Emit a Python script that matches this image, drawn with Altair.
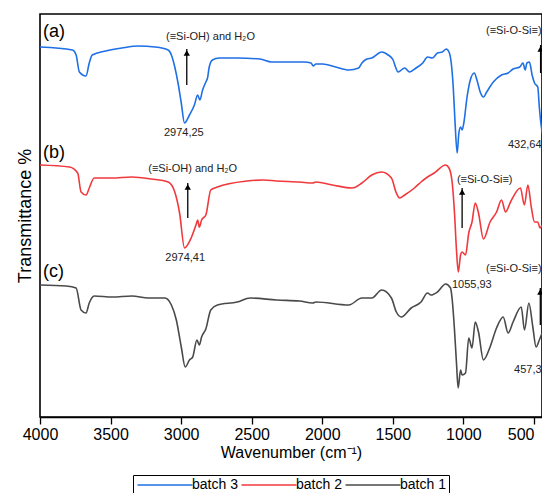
import altair as alt
import pandas as pd

# ---- data (wavenumber cm-1, transmittance in arbitrary offset units)
wn_a = [4000,3770,3744,3721,3674,3651,3630,3534,3420,3302,3185,3092,3069,3045,3022,2999,2976,2941,2906,2883,
        2867,2848,2825,2813,2801,2778,2731,2603,2441,2359,2243,2126,2080,2064,2045,1998,1905,1812,1742,1719,
        1684,1649,1579,1533,1498,1481,1463,1416,1381,1335,1288,1254,1219,1184,1149,1121,1102,1086,1072,1060,
        1044,1032,1020,1009,997,974,951,923,904,881,858,835,788,730,683,648,601,578,562,550,
        532,513,496,473,462,451,432,420]
t_a = [370,367,362,345,341,354,362,366,369,371,370,367,362,350,334,314,294,302,312,322,
       317,327,335,339,350,357,359,359,358,355,355,355,354,351,353,353,350,347,349,354,
       358,359,365,362,357,350,345,349,345,349,354,360,359,364,365,368,365,354,330,297,
       264,284,290,287,294,320,337,344,337,325,320,325,335,342,344,348,350,354,347,354,
       355,342,334,330,310,294,280,285]

wn_b = [4000,3791,3733,3709,3674,3651,3616,3490,3351,3211,3092,3045,3011,2976,2929,2895,2883,2871,2855,2825,
        2790,2743,2534,2417,2324,2161,2068,2045,1928,1789,1719,1649,1579,1510,1475,1451,1416,1347,1300,1254,
        1207,1126,1102,1079,1063,1049,1036,1020,1009,985,962,939,916,893,858,811,765,730,701,666,
        596,568,543,519,496,473,457,438,420]
t_b = [252,250,244,225,222,229,239,239,240,238,235,225,204,169,179,192,197,190,197,202,
       227,230,236,237,236,235,234,235,232,229,234,242,245,239,224,219,222,229,235,240,
       244,252,249,234,204,167,145,162,165,162,184,195,214,204,178,195,205,217,205,215,
       229,212,232,210,195,195,189,192,190]

wn_c = [4000,3814,3744,3709,3674,3651,3616,3488,3349,3232,3115,3069,3034,2999,2971,2941,2918,2888,2871,2855,
        2825,2790,2743,2603,2511,2324,2161,2068,2045,1812,1719,1649,1579,1510,1475,1440,1370,1300,1254,1230,
        1184,1126,1091,1079,1063,1049,1037,1020,1009,985,962,939,916,893,858,811,765,718,683,648,
        590,567,536,508,485,462,438,420]
t_c = [132,131,129,107,104,114,121,120,121,119,119,112,97,70,50,57,60,77,72,80,
       88,107,112,115,119,117,116,114,115,112,119,119,127,119,105,100,109,115,124,122,
       125,133,129,117,87,54,29,47,42,44,79,69,95,85,57,70,89,100,84,95,
       110,87,114,90,70,77,84,80]

series_names = ["batch 3", "batch 2", "batch 1"]
series_colors = ["#1f6fe5", "#f0393d", "#4a4a4a"]

# annotations
center_texts = ["(≡Si-OH) and H₂O", "2974,25", "(≡Si-OH) and H₂O", "2974,41"]
center_wn = [2792, 2981, 2918, 2971]
center_t = [380, 284, 248, 159]

left_texts = ["(≡Si-O-Si≡)", "1055,93"]
left_wn = [1046, 1081]
left_t = [237, 132]

right_texts = ["(≡Si-O-Si≡)", "432,64", "(≡Si-O-Si≡)", "457,3"]
right_wn = [446, 446, 446, 446]
right_t = [386, 272, 148, 47]

arrow_wn = [2960, 2953, 1009, 453, 455]
arrow_bottom = [332, 199, 189, 344, 92]
arrow_top = [368, 234, 229, 372, 129]

panel_texts = ["(a)", "(b)", "(c)"]
panel_wn = [3979, 3979, 3979]
panel_t = [385, 264, 145]

tick_values = [4000, 3750, 3500, 3250, 3000, 2750, 2500, 2250, 2000, 1750, 1500, 1250, 1000, 750, 500]

# ---- build tables
rows = []
for name, wns, ts in zip(series_names, [wn_a, wn_b, wn_c], [t_a, t_b, t_c]):
    for w, t in zip(wns, ts):
        rows.append({"series": name, "wn": w, "t": t})
spectra = pd.DataFrame(rows)
ctext = pd.DataFrame({"text": center_texts, "wn": center_wn, "t": center_t})
ltext = pd.DataFrame({"text": left_texts, "wn": left_wn, "t": left_t})
rtext = pd.DataFrame({"text": right_texts, "wn": right_wn, "t": right_t})
arrows = pd.DataFrame({"wn": arrow_wn, "b": arrow_bottom, "top": arrow_top})
panels = pd.DataFrame({"text": panel_texts, "wn": panel_wn, "t": panel_t})

FONT = "Liberation Sans"

xscale = alt.Scale(domain=[443, 4000], reverse=True, nice=False, zero=False)
yscale = alt.Scale(domain=[0, 403], nice=False, zero=False)

xaxis = alt.Axis(
    title="Wavenumber (cm⁻¹)", values=tick_values, format="d",
    labelExpr="datum.value % 500 === 0 ? datum.label : ''",
    labelAlign=alt.ExprRef("datum.value === 500 ? 'right' : 'center'"),
    tickSize=alt.ExprRef("datum.value % 500 === 0 ? 7 : 4"),
    tickColor="black", tickWidth=1.3, domainColor="black", domainWidth=1.5,
    labelFont=FONT, labelFontSize=16, labelColor="black", labelPadding=2,
    titleFont=FONT, titleFontSize=16, titleFontWeight="normal", titleColor="black", titlePadding=2,
    grid=False, labelFlush=False, labelOverlap=False,
)
yaxis = alt.Axis(
    title="Transmittance %", labels=False, ticks=False, domain=False, grid=False,
    titleFont=FONT, titleFontSize=18, titleFontWeight="normal", titleColor="black", titlePadding=6,
)

lines = alt.Chart(spectra).mark_line(strokeWidth=1.6, clip=True, interpolate="monotone").encode(
    x=alt.X("wn:Q", scale=xscale, axis=xaxis),
    y=alt.Y("t:Q", scale=yscale, axis=yaxis),
    color=alt.Color("series:N", scale=alt.Scale(domain=series_names, range=series_colors),
                    legend=alt.Legend(title=None, orient="none", legendX=93, legendY=461,
                                      direction="horizontal", symbolType="M-1,0L9,0",
                                      symbolSize=121, symbolStrokeWidth=1.6,
                                      labelFont=FONT, labelFontSize=14, labelColor="black",
                                      labelOffset=42, columnPadding=0, padding=3,
                                      strokeColor="black", fillColor="white")),
)

ct = alt.Chart(ctext).mark_text(font=FONT, fontSize=11, color="#222", align="center", baseline="middle").encode(
    x="wn:Q", y="t:Q", text="text:N")
lt = alt.Chart(ltext).mark_text(font=FONT, fontSize=11, color="#222", align="left", baseline="middle").encode(
    x="wn:Q", y="t:Q", text="text:N")
rt = alt.Chart(rtext).mark_text(font=FONT, fontSize=11, color="#222", align="right", baseline="middle").encode(
    x="wn:Q", y="t:Q", text="text:N")
pt = alt.Chart(panels).mark_text(font=FONT, fontSize=18, color="black", align="left", baseline="middle").encode(
    x="wn:Q", y="t:Q", text="text:N")
shaft = alt.Chart(arrows).mark_rule(color="black", strokeWidth=1.3).encode(
    x="wn:Q", y="b:Q", y2="top:Q")
head = alt.Chart(arrows).mark_point(shape="triangle-up", filled=True, color="black", size=40, opacity=1, yOffset=4).encode(
    x="wn:Q", y="top:Q")

chart = alt.layer(lines, shaft, head, ct, lt, rt, pt).properties(
    width=502, height=403,
    autosize=alt.AutoSizeParams(type="none"),
    padding={"left": 32, "top": 6, "right": 0, "bottom": 84},
).configure_view(stroke="black", strokeWidth=1.6)

chart.save("out.html", embed_options={"renderer": "svg", "actions": False})
